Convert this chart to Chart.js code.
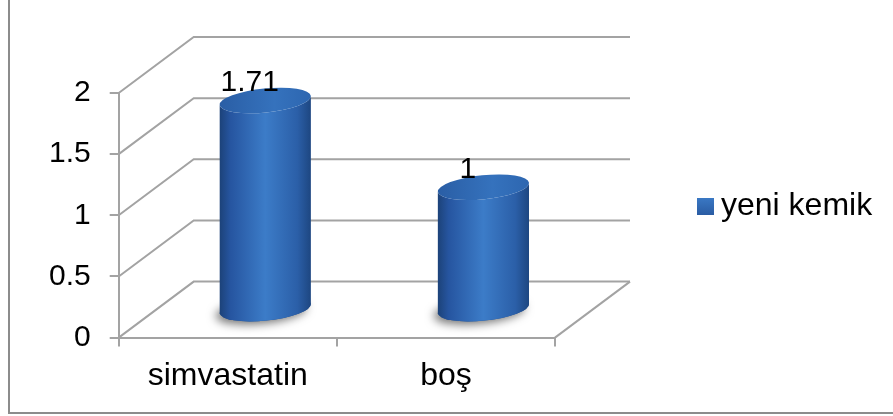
<!DOCTYPE html>
<html>
<head>
<meta charset="utf-8">
<script src="https://cdn.jsdelivr.net/npm/chart.js@4/dist/chart.umd.min.js"></script>
<style>
  html, body { margin: 0; padding: 0; background: #ffffff; }
  canvas { display: block; }
</style>
</head>
<body>
<canvas id="chart" width="893" height="416"></canvas>
<script>
// Data
const categories = ['simvastatin', 'boş'];
const seriesName = 'yeni kemik';
const newBoneValues = [1.71, 1];
const yTickValues = [0, 0.5, 1, 1.5, 2];

// 3D look: depth of the floor/walls and cylinder styling
const DEPTH_X = 75;
const DEPTH_Y = -56;
const CAP_RY = 12;
const CAP_TILT = -0.1;
const FRAME_GREY = '#a3a3a3';
const FONT_FAMILY = '"Liberation Sans", Arial, sans-serif';

function bodyGradient(ctx, left, right) {
  const g = ctx.createLinearGradient(left, 0, right, 0);
  g.addColorStop(0, '#1c4278');
  g.addColorStop(0.12, '#2655a0');
  g.addColorStop(0.5, '#3c7cc8');
  g.addColorStop(0.85, '#2b5fa8');
  g.addColorStop(1, '#1d4680');
  return g;
}

function capGradient(ctx, left, right) {
  const g = ctx.createLinearGradient(left, 0, right, 0);
  g.addColorStop(0, '#2a5ea5');
  g.addColorStop(0.6, '#3572bd');
  g.addColorStop(1, '#2d66b0');
  return g;
}

const scene3d = {
  id: 'scene3d',
  beforeDraw(chart) {
    // outer chart frame (left and bottom edges)
    const { ctx } = chart;
    ctx.save();
    ctx.strokeStyle = '#8c8c8c';
    ctx.lineWidth = 2;
    ctx.beginPath();
    ctx.moveTo(9, -5);
    ctx.lineTo(9, 413);
    ctx.lineTo(chart.width + 5, 413);
    ctx.stroke();
    ctx.restore();
  },
  beforeDatasetsDraw(chart) {
    // side wall diagonals, back wall gridlines and floor edge
    const { ctx, chartArea: a, scales: { y } } = chart;
    ctx.save();
    ctx.strokeStyle = FRAME_GREY;
    ctx.lineWidth = 2;
    y.ticks.forEach(t => {
      const py = y.getPixelForValue(t.value);
      ctx.beginPath();
      ctx.moveTo(a.left, py);
      ctx.lineTo(a.left + DEPTH_X, py + DEPTH_Y);
      ctx.lineTo(a.right + DEPTH_X, py + DEPTH_Y);
      ctx.stroke();
    });
    const p0 = y.getPixelForValue(0);
    ctx.beginPath();
    ctx.moveTo(a.right, p0);
    ctx.lineTo(a.right + DEPTH_X, p0 + DEPTH_Y);
    ctx.stroke();
    ctx.restore();
  },
  afterDatasetsDraw(chart) {
    const { ctx } = chart;
    const meta = chart.getDatasetMeta(0);
    const values = chart.data.datasets[0].data;
    meta.data.forEach((bar, i) => {
      const cx = bar.x + DEPTH_X / 2;
      const rx = bar.width / 2;
      const top = bar.y + DEPTH_Y / 2;
      const base = bar.base + DEPTH_Y / 2;

      // soft shadow on the floor
      ctx.save();
      ctx.shadowColor = 'rgba(0,0,0,0.55)';
      ctx.shadowBlur = 10;
      ctx.shadowOffsetX = -4;
      ctx.shadowOffsetY = 3;
      ctx.fillStyle = '#24508f';
      ctx.beginPath();
      ctx.ellipse(cx, base, rx, CAP_RY, CAP_TILT, 0, Math.PI * 2);
      ctx.fill();
      ctx.restore();

      // cylinder body
      ctx.save();
      ctx.fillStyle = bodyGradient(ctx, cx - rx, cx + rx);
      ctx.beginPath();
      ctx.ellipse(cx, top, rx, CAP_RY, CAP_TILT, 0, Math.PI, false);
      ctx.ellipse(cx, base, rx, CAP_RY, CAP_TILT, Math.PI, 0, true);
      ctx.closePath();
      ctx.fill();

      // top cap
      ctx.fillStyle = capGradient(ctx, cx - rx, cx + rx);
      ctx.beginPath();
      ctx.ellipse(cx, top, rx, CAP_RY, CAP_TILT, 0, Math.PI * 2);
      ctx.fill();
      ctx.restore();

      // value label
      ctx.save();
      ctx.font = '30px ' + FONT_FAMILY;
      ctx.fillStyle = '#000000';
      ctx.textAlign = 'center';
      ctx.textBaseline = 'middle';
      ctx.fillText(String(values[i]), bar.x + 22, bar.y - 46);
      ctx.restore();
    });

    // legend
    ctx.save();
    const sw = ctx.createLinearGradient(0, 198, 0, 215);
    sw.addColorStop(0, '#3a78c4');
    sw.addColorStop(1, '#2a5ca3');
    ctx.fillStyle = sw;
    ctx.fillRect(697, 198, 17, 17);
    ctx.font = '32px ' + FONT_FAMILY;
    ctx.fillStyle = '#000000';
    ctx.textAlign = 'left';
    ctx.textBaseline = 'alphabetic';
    ctx.fillText(chart.data.datasets[0].label, 721, 215);
    ctx.restore();
  }
};

Chart.defaults.font.family = FONT_FAMILY;
Chart.defaults.font.size = 30;
Chart.defaults.color = '#000000';

new Chart(document.getElementById('chart'), {
  type: 'bar',
  data: {
    labels: categories,
    datasets: [{
      label: seriesName,
      data: newBoneValues,
      backgroundColor: 'rgba(0,0,0,0)',
      borderWidth: 0,
      barPercentage: 1,
      categoryPercentage: 0.42
    }]
  },
  options: {
    responsive: false,
    animation: false,
    layout: { padding: { left: 30, right: 338, top: 93, bottom: 11 } },
    plugins: {
      legend: { display: false },
      tooltip: { enabled: false }
    },
    scales: {
      x: {
        grid: { drawOnChartArea: false, offset: true, tickLength: 9, color: FRAME_GREY, lineWidth: 2 },
        border: { color: FRAME_GREY, width: 2 },
        ticks: { padding: 10, maxRotation: 0, font: { size: 32 } }
      },
      y: {
        min: 0,
        max: 2,
        afterBuildTicks: scale => { scale.ticks = yTickValues.map(v => ({ value: v })); },
        grid: { drawOnChartArea: false, tickLength: 9, color: FRAME_GREY, lineWidth: 2 },
        border: { color: FRAME_GREY, width: 2 },
        ticks: { padding: 19, callback: v => String(v) }
      }
    }
  },
  plugins: [scene3d]
});
</script>
</body>
</html>
